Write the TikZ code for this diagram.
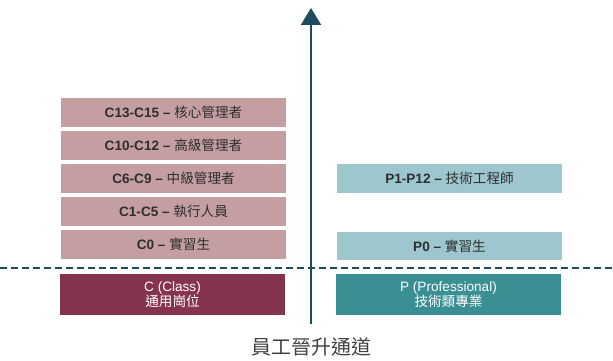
\documentclass[tikz,border=0pt]{standalone}
\usepackage{fontspec}
\setmainfont{Liberation Sans}
\newfontfamily\cjk{Noto Sans CJK TC}
\usetikzlibrary{arrows.meta}
\definecolor{cLight}{HTML}{C49EA1}
\definecolor{cDark}{HTML}{86334E}
\definecolor{pLight}{HTML}{9DC6CF}
\definecolor{pDark}{HTML}{3A8F93}
\definecolor{axis}{HTML}{1B4D5E}
\definecolor{txt}{HTML}{2E2E2E}
\tikzset{
  x=1pt, y=-1pt,
  lvl/.style={minimum width=225pt, minimum height=28.5pt, inner sep=0pt, text=txt, font=\fontsize{13.6}{15}\selectfont},
  cl/.style={lvl, fill=cLight},
  pl/.style={lvl, fill=pLight},
  base/.style={minimum width=225pt, minimum height=41pt, inner sep=0pt, text=white, align=center, font=\fontsize{13.6}{15.5}\selectfont},
}
\newcommand{\lbl}[2]{\textbf{#1 –} {\cjk #2}}
\begin{document}
\begin{tikzpicture}
\useasboundingbox (0,0) rectangle (613,361);
\node[cl] (c13) at (173.5,112.5) {\lbl{C13-C15}{核心管理者}};
\node[cl] (c10) at (173.5,145.5) {\lbl{C10-C12}{高級管理者}};
\node[cl] (c6)  at (173.5,178.5) {\lbl{C6-C9}{中級管理者}};
\node[cl] (c1)  at (173.5,211.5) {\lbl{C1-C5}{執行人員}};
\node[cl] (c0)  at (173.5,244.5) {\lbl{C0}{實習生}};
\node[pl] (p1)  at (449.5,178.5) {\lbl{P1-P12}{技術工程師}};
\node[pl] (p0)  at (449.5,246) {\lbl{P0}{實習生}};
\node[base, fill=cDark] (cb) at (172.5,294.5) {C (Class)\\{\cjk 通用崗位}};
\node[base, fill=pDark] (pb) at (448.5,294.5) {P (Professional)\\{\cjk 技術類專業}};
\coordinate (dl) at (0,267.5);
\coordinate (dr) at (613,267.5);
\draw[axis, line width=2pt, dash pattern=on 7pt off 4pt] (dl) -- (dr);
\coordinate (ab) at (311,324);
\coordinate (at) at (311,8);
\draw[axis, line width=2pt, -{Triangle[width=20pt,length=17pt]}] (ab) -- (at);
\node[font=\cjk\fontsize{20}{22}\selectfont, text=black!75] (title) at (311,347) {員工晉升通道};
\end{tikzpicture}
\end{document}
